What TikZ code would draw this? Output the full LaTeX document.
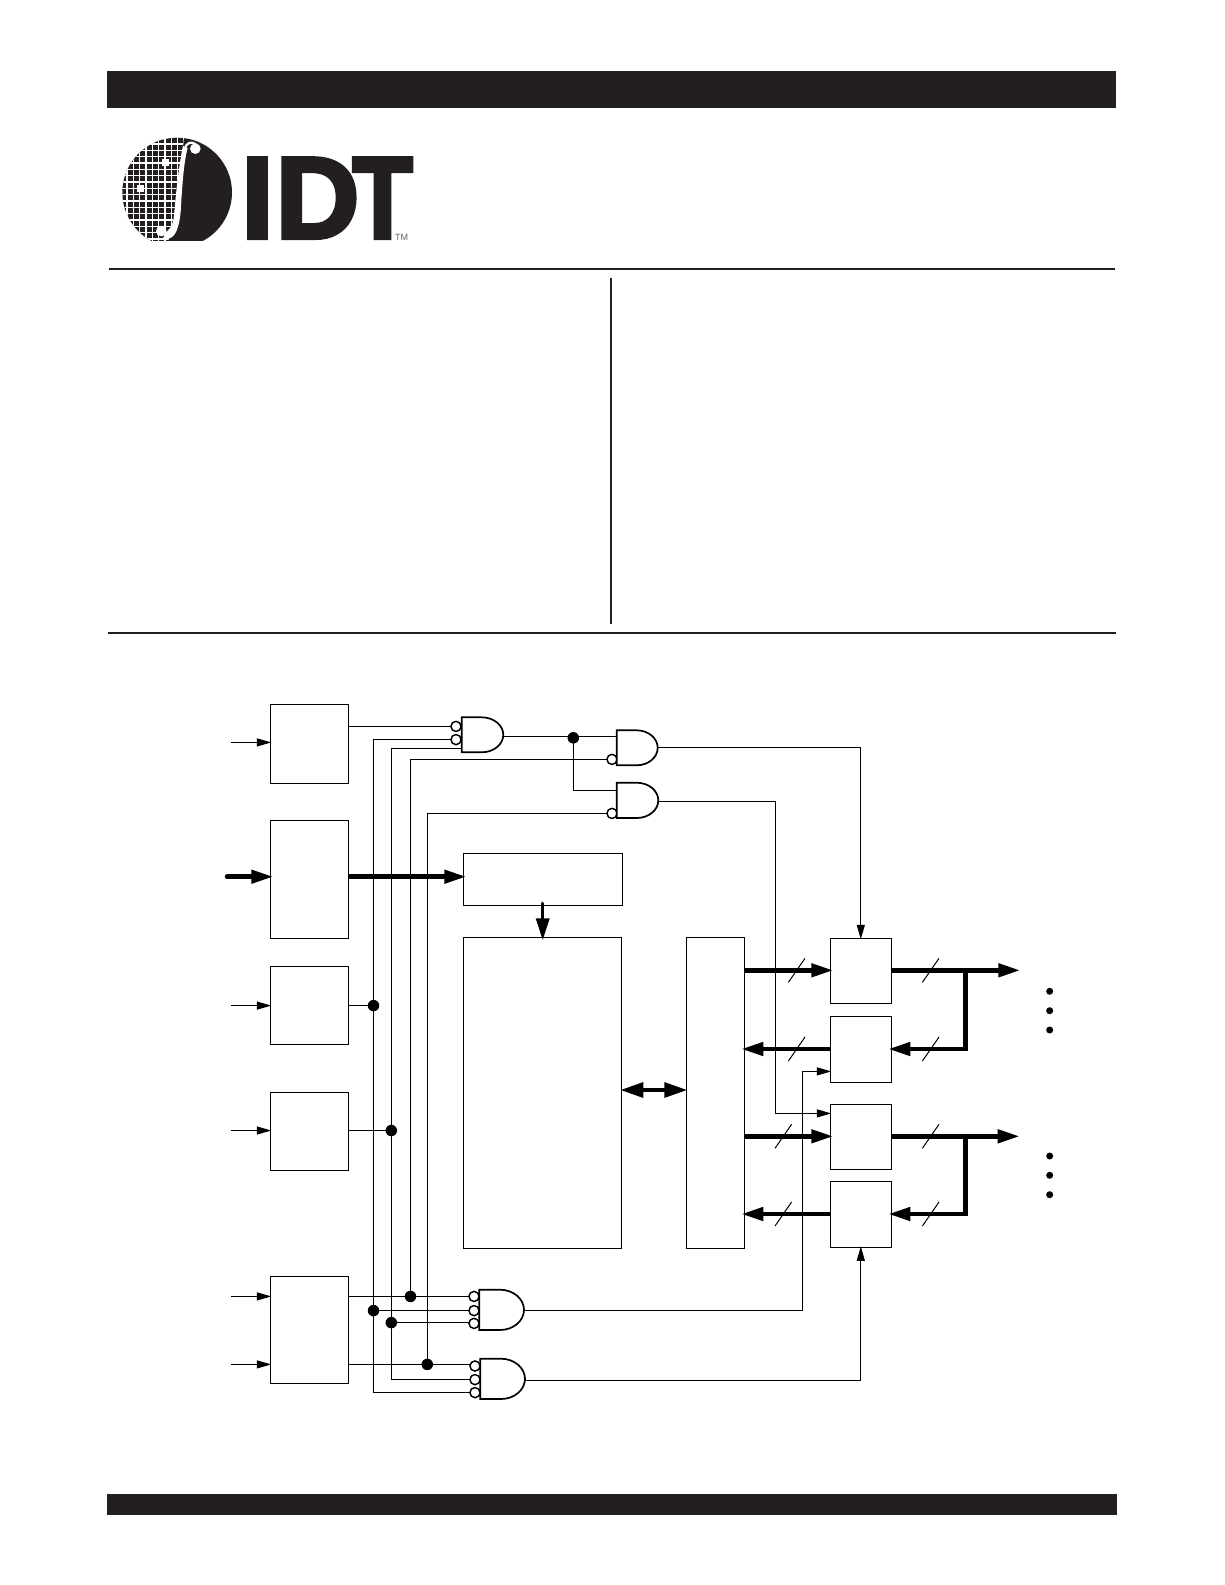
\documentclass[tikz,border=0pt]{standalone}
\usepackage{fontspec}
\setmainfont{Liberation Sans}
\newfontfamily\logofont[BoldFeatures={FakeBold=3.5}]{Liberation Sans}
\usetikzlibrary{arrows.meta,calc}
\definecolor{ink}{HTML}{231F20}
\tikzset{
  wire/.style={line width=1.2pt,draw=black},
  thinarrow/.style={wire,-{Triangle[length=14.5pt,width=8pt]},shorten >=-1pt},
  bus/.style={line width=4.5pt,draw=black,line join=miter},
  busarrow/.style={bus,-{Triangle[length=22pt,width=13pt]},shorten >=-3pt},
  blockbox/.style={draw=black,line width=1.2pt,inner sep=0pt,outer sep=0pt,fill=white},
  bub/.style={circle,draw=black,line width=1.3pt,fill=white,minimum size=10pt,inner sep=0pt,outer sep=0pt},
  dotj/.style={circle,fill=black,minimum size=11.5pt,inner sep=0pt,outer sep=0pt},
  dotp/.style={circle,fill=black,minimum size=7pt,inner sep=0pt,outer sep=0pt},
  slashmark/.style={line width=1pt,draw=black},
  gateshape/.style={line width=1.7pt,draw=black,fill=white,line join=miter},
  rulebar/.style={fill=ink,draw=none},
}
\newcommand{\blockat}[5]{%
  \pgfmathsetmacro{\bw}{#4-#2}\pgfmathsetmacro{\bh}{#5-#3}%
  \pgfmathsetmacro{\bx}{(#4+#2)/2}\pgfmathsetmacro{\by}{(#5+#3)/2}%
  \node[blockbox,minimum width=\bw pt,minimum height=\bh pt] (#1) at (\bx,\by) {};}
\newcommand{\gateat}[6]{%
  \pgfmathsetmacro{\gw}{#6-#5}\pgfmathsetmacro{\gh}{(#4-#3)/2}%
  \pgfmathsetmacro{\gm}{(#4+#3)/2}\pgfmathsetmacro{\gcx}{#5+.55*\gw}%
  \pgfmathsetmacro{\gua}{\gm-.55*\gh}\pgfmathsetmacro{\gub}{\gm+.55*\gh}%
  \draw[gateshape] (#2,#3) -- (#5,#3) .. controls (\gcx,#3) and (#6,\gua) .. (#6,\gm)
     .. controls (#6,\gub) and (\gcx,#4) .. (#5,#4) -- (#2,#4) -- cycle;
  \pgfmathsetmacro{\gx}{(#2+#6)/2}\pgfmathsetmacro{\gfw}{#6-#2}\pgfmathsetmacro{\gfh}{#4-#3}%
  \node[inner sep=0pt,outer sep=0pt,minimum width=\gfw pt,minimum height=\gfh pt] (#1) at (\gx,\gm) {};}
\newcommand{\slashat}[2]{\draw[slashmark] ({#1-8.3},{#2+12}) -- ++(16.6,-24);}
\begin{document}
\begin{tikzpicture}[x=1pt,y=-1pt]
\useasboundingbox (0,0) rectangle (1225,1585);
\fill[white] (0,0) rectangle (1225,1585);
% page furniture
\fill[rulebar] (107,71) rectangle (1116,108);
\fill[rulebar] (107,1494) rectangle (1117,1515);
\fill[rulebar] (109,268) rectangle (1115,270);
\fill[rulebar] (107.5,632) rectangle (1116,634.2);
\fill[rulebar] (610,278) rectangle (612,624);
% logo disc
\begin{scope}[shift={(118,132)},x=.33333pt,y=-.33333pt]
  \begin{scope}
    \clip (-5,-5) rectangle (360,325);
    \fill[ink] (177.5,181.5) circle[radius=164.5];
    \clip (177.5,181.5) circle[radius=164.5];
    \begin{scope}
      \clip (-5,-5) -- (200,-5) -- (195,42) -- (175,170) -- (169,240) -- (158,300) -- (150,330) -- (-5,330) -- cycle;
      \foreach \gx in {8,27,...,230} {\draw[white,line width=1.4pt] (\gx,-5) -- (\gx,330);}
      \foreach \gy in {-2,17,...,330} {\draw[white,line width=1.4pt] (-5,\gy) -- (230,\gy);}
      \fill[white] (132,82) rectangle (152,103);
      \fill[white] (57,160) rectangle (78,181);
    \end{scope}
    \fill[white] (195,42) .. controls (184,90) and (175,170) .. (169,240)
      .. controls (167,265) and (163,285) .. (150,295)
      -- (135,318) -- (150,320)
      .. controls (174,318) and (184,280) .. (188,240)
      .. controls (192,170) and (197,90) .. (209,48) -- cycle;
    \fill[white] (130,297) circle[radius=16];
    \fill[white] (232,50) circle[radius=16];
    \draw[white,line width=2.2pt] (200,50) .. controls (205,33) and (220,26) .. (234,37);
  \end{scope}
\end{scope}
\node[anchor=base west,inner sep=0pt,text=ink,font=\logofont\bfseries\fontsize{116}{116}\selectfont] (idtlogo) at (241.2,238)
  {I\kern2pt D\kern-7pt\scalebox{.85}[1]{T}};
\node[anchor=base,inner sep=0pt,text=ink!70,font=\fontsize{9}{9}\selectfont] (tmmark) at (401.5,240) {TM};
% blocks
\blockat{boxA}{270.3}{704.3}{348.3}{783.3}
\blockat{boxB}{270.3}{820.3}{348.3}{938.3}
\blockat{boxE}{270.3}{966.3}{348.3}{1044.3}
\blockat{boxF}{270.3}{1092.4}{348.3}{1170.4}
\blockat{boxG}{270.3}{1276.3}{348.3}{1383.3}
\blockat{boxC}{463.3}{853.3}{622.7}{905.3}
\blockat{boxD}{463.3}{937.3}{621.3}{1248.3}
\blockat{boxH}{686.3}{937.3}{744.3}{1248.3}
\blockat{regA}{830.3}{938.3}{891.3}{1003.3}
\blockat{regB}{830.3}{1016.3}{891.3}{1082.3}
\blockat{regC}{830.3}{1104.3}{891.3}{1169.3}
\blockat{regD}{830.3}{1181.3}{891.3}{1247.3}
% gate bubbles and junctions
\node[bub] (b11) at (456,726.4) {};
\node[bub] (b12) at (456,739.6) {};
\node[bub] (b21) at (612,759.4) {};
\node[bub] (b31) at (612,813.4) {};
\node[bub] (b41) at (474,1296.4) {};
\node[bub] (b42) at (474,1310.6) {};
\node[bub] (b43) at (474,1323.4) {};
\node[bub] (b51) at (475,1366) {};
\node[bub] (b52) at (475,1379.6) {};
\node[bub] (b53) at (475,1392.6) {};
\coordinate (jT) at (573.3,737.8);
\coordinate (jE) at (373.5,1005.6);
\coordinate (jF) at (391.3,1130.5);
\coordinate (jG1) at (410.5,1296.4);
\coordinate (jG2) at (373.5,1310.6);
\coordinate (jG3) at (391.3,1322.6);
\coordinate (jG4) at (427.3,1364.4);
\coordinate (wireA) at (775.3,801.4);
\coordinate (wireB) at (802.7,1310.4);
\coordinate (inA) at (231,742.4);
\coordinate (inE) at (231,1005.6);
\coordinate (inF) at (231,1130.5);
\coordinate (inG) at (231,1296.4);
\coordinate (inH) at (231,1364.4);
\coordinate (g1out) at (503.3,736.4);
\coordinate (g2in) at (616.7,736.4);
\coordinate (g3in) at (616.7,790.4);
\coordinate (g2out) at (657.7,747.4);
\coordinate (g3out) at (658.3,801.4);
\coordinate (g4out) at (524,1310.4);
\coordinate (g5out) at (525,1380.4);
\coordinate (g1low) at (461.7,748.6);
\coordinate (regAin) at (830.3,1113.4);
\coordinate (regBin) at (830.3,1071.4);
% thin wires
\draw[thinarrow] (inA) -- (boxA.west |- inA);
\draw[thinarrow] (inE) -- (boxE.west |- inE);
\draw[thinarrow] (inF) -- (boxF.west |- inF);
\draw[thinarrow] (inG) -- (boxG.west |- inG);
\draw[thinarrow] (inH) -- (boxG.west |- inH);
\draw[wire] (boxA.east |- b11) -- (b11.west);
\draw[wire] (b12.west) -| (jE) -- (jG2) |- (b53.west);
\draw[wire] (g1low) -| (jF) -- (jG3) |- (b52.west);
\draw[wire] (b21.west) -| (jG1);
\draw[wire] (b31.west) -| (jG4);
\draw[wire] (boxE.east |- jE) -- (jE);
\draw[wire] (boxF.east |- jF) -- (jF);
\draw[wire] (boxG.east |- jG1) -- (b41.west |- jG1);
\draw[wire] (jG2) -- (b42.west |- jG2);
\draw[wire] (jG3) -- (b43.west |- jG3);
\draw[wire] (boxG.east |- jG4) -- (b51.west |- jG4);
\draw[wire] (g1out) -- (g2in);
\draw[wire] (jT) |- (g3in);
\draw[thinarrow] (g2out) -| (regA.north);
\draw[wire] (g3out) -- (wireA);
\draw[thinarrow] (wireA) |- (regAin);
\draw[wire] (g4out) -- (wireB);
\draw[thinarrow] (wireB) |- (regBin);
\draw[thinarrow] (g5out) -| (regD.south);
% bubbles on top of wires
\foreach \bb in {b11,b12,b21,b31,b41,b42,b43,b51,b52,b53}
  {\node[bub] at (\bb) {};}
% gates
\gateat{gateA}{461.7}{717.3}{752.3}{481.7}{503.3}
\gateat{gateB}{616.7}{730.3}{765.3}{636.7}{657.7}
\gateat{gateC}{616.7}{782.7}{818}{636.7}{658.3}
\gateat{gateD}{479.3}{1289.7}{1330}{500}{524}
\gateat{gateE}{480.3}{1358.7}{1399}{501}{525}
% junction dots
\foreach \jj in {jT,jE,jF,jG1,jG2,jG3,jG4} {\node[dotj] at (\jj) {};}
% buses
\coordinate (busIn) at (227,876.7);
\coordinate (cOut) at (542.7,903.3);
\coordinate (y1) at (0,970.3);
\coordinate (y2) at (0,1049);
\coordinate (y3) at (0,1136.3);
\coordinate (y4) at (0,1214);
\coordinate (outA) at (1017.3,970.3);
\coordinate (outB) at (1016.7,1136.3);
\coordinate (tapA) at (965.7,970.3);
\coordinate (tapB) at (965.7,1136.3);
\coordinate (midbus) at (0,1090);
\draw[busarrow,line cap=round] (busIn) -- (boxB.west |- busIn);
\draw[busarrow] (boxB.east |- busIn) -- (boxC.west |- busIn);
\draw[busarrow,line width=3.4pt,line cap=round] (cOut) -- (boxD.north -| cOut);
\draw[bus,line width=4pt,shorten >=-1pt,shorten <=-1pt,{Triangle[length=23pt,width=14.7pt]}-{Triangle[length=23pt,width=14.7pt]}] (boxD.east |- midbus) -- (boxH.west |- midbus);
\draw[busarrow] (boxH.east |- y1) -- (regA.west |- y1);
\draw[busarrow] (regB.west |- y2) -- (boxH.east |- y2);
\draw[busarrow] (boxH.east |- y3) -- (regC.west |- y3);
\draw[busarrow] (regD.west |- y4) -- (boxH.east |- y4);
\draw[busarrow] (regA.east |- y1) -- (outA);
\draw[busarrow] (regC.east |- y3) -- (outB);
\draw[busarrow] (tapA) |- (regB.east |- y2);
\draw[busarrow] (tapB) |- (regD.east |- y4);
% bus width marks
\slashat{796.7}{970.3}
\slashat{796.7}{1049}
\slashat{783.3}{1136.3}
\slashat{783.3}{1214}
\slashat{930.7}{970.3}
\slashat{930.7}{1049}
\slashat{930.7}{1136.3}
\slashat{930.7}{1214}
% continuation dots
\node[dotp] (da1) at (1049.7,991.3) {};
\node[dotp] (da2) at (1049.7,1010.7) {};
\node[dotp] (da3) at (1049.7,1030) {};
\node[dotp] (db1) at (1049.7,1156) {};
\node[dotp] (db2) at (1049.7,1175.3) {};
\node[dotp] (db3) at (1049.7,1194.7) {};
\end{tikzpicture}
\end{document}
